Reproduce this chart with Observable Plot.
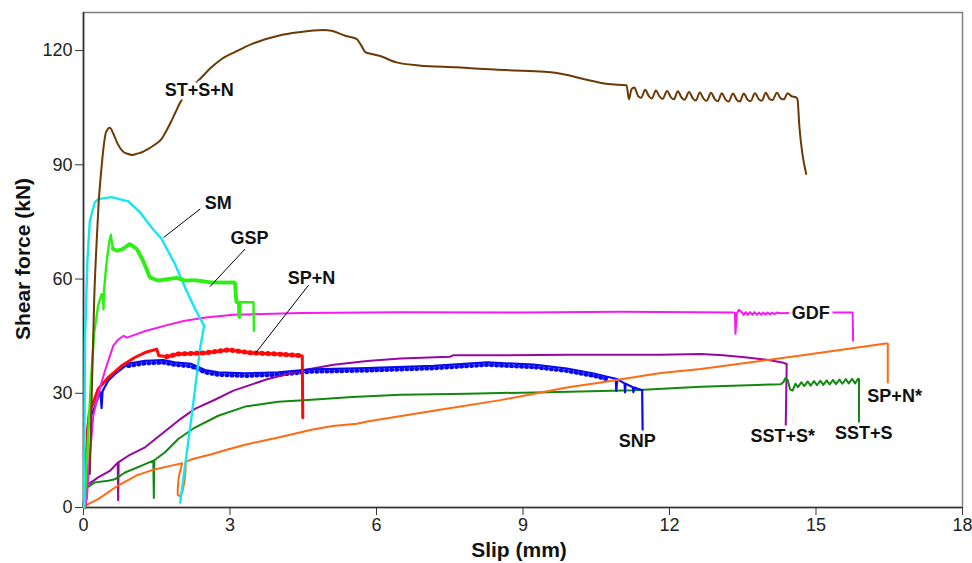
<!DOCTYPE html>
<html><head><meta charset="utf-8">
<script src="https://cdn.jsdelivr.net/npm/d3@7"></script>
<script src="https://cdn.jsdelivr.net/npm/@observablehq/plot@0.6"></script>
<style>body{margin:0;background:#fff}</style>
</head><body><div id="chart"></div>
<script>
// ---- data (slip mm, shear force kN) ----
const xTicks = [0, 3, 6, 9, 12, 15, 18];
const yTicks = [0, 30, 60, 90, 120];

const sstsStar = [[0,0.5],[0.03,5.5],[0.3,7.9],[0.54,9.6],[0.7,11.8],[0.71,1.9],[0.72,11.9],[0.92,13.6],[1.26,15.8],[1.6,19.3],[1.94,22.8],[2.28,25.9],[2.69,28.3],[3.07,30.7],[3.76,33.7],[4.44,35.9],[5.12,37.5],[5.81,38.5],[6.49,39.1],[7.5,39.6],[7.58,40.0],[8.5,40.0],[9.9,40.1],[11.8,40.1],[12.64,40.3],[13.1,40.0],[13.59,39.4],[14.0,38.8],[14.31,38.1],[14.4,37.7],[14.38,21.5]];

const ssts = [[0,0.5],[0.03,4.8],[0.23,6.6],[0.51,7.0],[0.64,7.4],[0.85,9.2],[1.19,11.0],[1.43,12.3],[1.44,2.5],[1.45,12.4],[1.67,14.5],[1.94,18.0],[2.28,21.0],[2.76,24.1],[3.31,26.5],[3.99,27.8],[4.67,28.3],[5.5,29.0],[6.49,29.6],[7.86,29.9],[9.5,30.3],[11.27,30.8],[12.64,31.7],[14.28,32.4],[14.33,32.9],[14.37,33.9],[14.42,33.5],[14.47,31.0],[14.52,30.7],[14.58,32.5],[14.63,31.6],[14.7,32.9],[14.76,31.9],[14.83,33.1],[14.89,32.0],[14.96,33.2],[15.02,32.1],[15.09,33.3],[15.15,32.2],[15.22,33.4],[15.28,32.3],[15.35,33.5],[15.41,32.4],[15.48,33.6],[15.54,32.5],[15.61,33.7],[15.67,32.6],[15.74,33.8],[15.8,32.6],[15.86,33.8],[15.88,33.7],[15.88,22.1]];

const snp = [[0.02,0],[0.06,15],[0.1,22.8],[0.2,25.4],[0.3,29.0],[0.35,30.2],[0.37,26.1],[0.39,30.5],[0.5,33.2],[0.64,35.0],[0.92,37.8],[1.26,38.5],[1.63,38.7],[1.87,38.1],[2.21,37.7],[2.49,36.1],[2.76,35.5],[3.31,35.2],[3.99,35.5],[4.67,36.3],[5.81,36.6],[7.17,37.2],[8.27,38.1],[9.22,37.5],[9.9,36.5],[10.45,35.2],[10.7,34.4],[10.9,33.8],[10.91,30.6],[10.93,33.7],[11.08,32.6],[11.09,30.2],[11.1,32.5],[11.25,31.6],[11.26,30.3],[11.28,31.5],[11.44,30.8],[11.45,20.2]];

const spnStar = [[0,0.3],[0.3,2.2],[0.7,5.7],[1.1,8.5],[1.45,10.0],[1.8,11.0],[2.02,11.6],[2.0,10.5],[1.95,8.0],[1.93,5.0],[1.93,3.3],[1.97,3.0],[2.02,3.8],[2.07,7.0],[2.09,10.0],[2.09,11.9],[2.2,12.6],[2.62,14.0],[2.97,15.3],[3.31,16.5],[3.99,18.4],[4.67,20.4],[5.1,21.4],[5.6,22.0],[5.81,22.6],[7.17,25.4],[8.54,28.2],[9.9,31.5],[10.59,32.8],[11.82,35.3],[12.64,36.4],[14.69,39.9],[16.43,43.1],[16.47,43.0],[16.47,32.8]];

const spn = [[0.03,0],[0.06,3.5],[0.08,20],[0.12,25],[0.2,27.5],[0.3,31.1],[0.51,34.2],[0.78,37.2],[1.05,39.4],[1.26,40.7],[1.5,41.6],[1.54,39.9],[1.7,39.6],[1.94,40.3],[2.49,40.6],[2.97,41.4],[3.44,40.6],[3.99,40.3],[4.43,39.9],[4.48,39.8],[4.49,23.6]];

const gdf = [[0.02,0],[0.07,2.6],[0.12,12],[0.2,24],[0.27,28],[0.35,32],[0.44,35.9],[0.61,42.5],[0.72,44.2],[0.82,45.1],[0.89,44.6],[1.23,46.2],[1.71,47.9],[2.05,49.0],[2.5,49.9],[3.07,50.6],[4.44,51.1],[6.49,51.3],[9.0,51.2],[11.0,51.4],[13.3,51.2],[13.34,51.1],[13.35,45.6],[13.38,51.0],[13.42,51.9],[13.48,51.3],[13.52,50.6],[13.56,51.3],[13.6,50.6],[13.65,51.3],[13.7,50.6],[13.74,51.3],[13.79,50.6],[13.83,51.2],[13.88,50.6],[13.92,51.2],[13.97,50.7],[14.01,51.2],[14.06,50.7],[14.1,51.2],[14.15,50.8],[14.2,51.2],[14.26,51.0],[14.45,51.1],[15.3,51.2],[15.75,51.2],[15.76,43.8]];

const gsp = [[0.02,0],[0.08,15],[0.15,33],[0.22,46],[0.3,53],[0.37,56],[0.4,55.2],[0.41,52],[0.42,57],[0.47,64],[0.53,70],[0.56,71.6],[0.6,68],[0.68,67.4],[0.81,67.9],[0.95,69.2],[1.09,67.9],[1.22,64.8],[1.36,60.4],[1.53,59.6],[1.74,60.0],[1.91,60.3],[2.08,59.6],[2.28,59.7],[2.62,59.1],[3.1,59.1],[3.13,54.0],[3.18,53.9],[3.19,50.0],[3.2,53.9],[3.48,53.9],[3.49,46.4]];

const sm = [[0.01,0],[0.03,43.8],[0.08,65],[0.13,75.3],[0.23,80.1],[0.3,81.0],[0.57,81.5],[0.92,80.4],[1.16,77.5],[1.39,73.6],[1.6,70.5],[1.87,64.0],[2.08,57.8],[2.27,52.5],[2.38,49.9],[2.47,47.7],[2.39,42.0],[2.22,24.5],[1.98,1.3]];

const stsn = [[0.13,8.8],[0.17,30],[0.22,55],[0.27,70],[0.31,80],[0.36,88],[0.41,94.5],[0.46,98.5],[0.54,99.7],[0.6,98.5],[0.7,95.5],[0.8,93.6],[0.9,92.9],[1.0,92.6],[1.09,92.9],[1.2,93.3],[1.3,94.0],[1.45,95.2],[1.6,96.8],[1.7,99.0],[1.8,101.5],[1.87,103.4],[2.0,106.8],[2.2,110.0],[2.42,113.0],[2.62,115.6],[2.83,117.8],[3.1,119.6],[3.44,121.7],[3.99,123.9],[4.4,124.8],[4.91,125.4],[5.08,125.2],[5.36,123.9],[5.59,123.1],[5.69,121.3],[5.77,119.6],[5.9,119.1],[6.04,118.7],[6.41,116.9],[6.87,116.1],[7.65,115.6],[8.42,115.0],[9.35,114.5],[9.66,114.2],[9.97,113.4],[10.28,112.4],[10.74,111.2],[11.12,110.9],[11.17,107.2],[11.22,109.8],[11.28,110.3],[11.36,108.0],[11.42,107.6],[11.5,109.7],[11.58,108.0],[11.64,107.4],[11.72,109.5],[11.8,107.9],[11.86,107.3],[11.95,109.4],[12.03,107.7],[12.09,107.2],[12.17,109.3],[12.25,107.6],[12.31,107.1],[12.4,109.1],[12.48,107.4],[12.54,106.9],[12.62,109.0],[12.7,107.3],[12.76,106.8],[12.85,108.9],[12.93,107.2],[12.99,106.7],[13.07,108.8],[13.15,107.1],[13.21,106.6],[13.3,108.7],[13.38,107.0],[13.44,106.6],[13.52,108.7],[13.6,107.1],[13.66,106.7],[13.75,108.8],[13.83,107.2],[13.89,106.8],[13.97,108.9],[14.05,107.3],[14.11,107.0],[14.2,108.9],[14.28,107.4],[14.34,107.2],[14.42,108.8],[14.5,108.0],[14.58,107.8],[14.62,107.3],[14.66,100],[14.72,93],[14.8,87.6]];

const labelNames = ["ST+S+N","SM","GSP","SP+N","GDF","SP+N*","SST+S","SST+S*","SNP"];
const labelX = [2.37, 2.76, 3.40, 4.67, 14.89, 16.61, 15.98, 14.32, 11.34];
const labelY = [109.7, 79.8, 70.6, 60.2, 50.9, 29.2, 19.5, 18.7, 17.5];

const leaderX1 = [1.64, 2.59, 3.52];
const leaderY1 = [70.9, 58.0, 40.5];
const leaderX2 = [2.39, 3.31, 4.61];
const leaderY2 = [78.4, 67.9, 58.4];

// ---- build ----
const rows = pts => pts.map(([x, y]) => ({x, y}));
const styles = [
  {pts: sstsStar, color: "#9608a0", w: 2},
  {pts: ssts, color: "#128812", w: 2},
  {pts: snp, color: "#0a0af0", w: 2.2},
  {pts: spnStar, color: "#ff6a12", w: 2},
  {pts: spn, color: "#ff0a0a", w: 3},
  {pts: gdf, color: "#f719f0", w: 2},
  {pts: gsp, color: "#2cf014", w: 2.4},
  {pts: sm, color: "#14e6f2", w: 2.4},
  {pts: stsn, color: "#6c3a06", w: 2, curve: "monotone-x"}
];
const lineMarks = styles.map(s => Plot.line(rows(s.pts), {x: "x", y: "y", stroke: s.color, strokeWidth: s.w, strokeLinejoin: "round", curve: s.curve || "linear"}));

const leaders = leaderX1.map((d, i) => ({x1: d, y1: leaderY1[i], x2: leaderX2[i], y2: leaderY2[i]}));
const labels = labelNames.map((t, i) => ({t, x: labelX[i], y: labelY[i]}));
const font = "'Liberation Sans', Arial, Helvetica, sans-serif";

const chart = Plot.plot({
  width: 972, height: 563,
  marginLeft: 83, marginRight: 10, marginTop: 12, marginBottom: 56,
  style: {fontFamily: font, background: "#fff", color: "#222"},
  x: {domain: [0, 18]},
  y: {domain: [0, 130]},
  marks: [
    Plot.frame({stroke: "#808080", strokeWidth: 1.5}),
    Plot.axisX({ticks: xTicks, tickSize: 8, tickPadding: 3, fontSize: 18, label: null, stroke: "#333"}),
    Plot.axisY({ticks: yTicks, tickSize: 8, tickPadding: 3, fontSize: 18, label: null, stroke: "#333"}),
    Plot.ruleX([0], {stroke: "#333", strokeWidth: 1.6}),
    Plot.ruleY([0], {stroke: "#333", strokeWidth: 1.6}),
    // noisy texture overlays (teeth / jitter seen in the measured curves)
    Plot.line(rows(snp).filter(d => d.x > 0.9 && d.x < 10.8), {x: "x", y: "y", stroke: "#0a0af0", strokeWidth: 4, strokeDasharray: "1,4", dy: 2.5}),
    ...lineMarks,
    Plot.line(rows(spn).filter(d => d.x > 1.55 && d.x < 4.45), {x: "x", y: "y", stroke: "#ff0a0a", strokeWidth: 5, strokeDasharray: "1,5"}),
    Plot.line(rows(gsp).filter(d => d.x > 0.58 && d.x < 3.48), {x: "x", y: "y", stroke: "#2cf014", strokeWidth: 4, strokeDasharray: "0.8,2.2"}),
    Plot.link(leaders, {x1: "x1", y1: "y1", x2: "x2", y2: "y2", stroke: "#000", strokeWidth: 1}),
    Plot.text(labels, {x: "x", y: "y", text: "t", fontSize: 18, fontWeight: "bold", fill: "#111", stroke: "#fff", strokeWidth: 7, paintOrder: "stroke"}),
    Plot.text(["Slip (mm)"], {text: d => d, frameAnchor: "bottom", textAnchor: "middle", lineAnchor: "middle", dy: 43, dx: -4, fontSize: 21, fontWeight: "bold", fill: "#111"}),
    Plot.text(["Shear force (kN)"], {text: d => d, frameAnchor: "left", textAnchor: "middle", lineAnchor: "middle", rotate: -90, dx: -60, dy: -1, fontSize: 21, fontWeight: "bold", fill: "#111"})
  ]
});
document.getElementById("chart").appendChild(chart);
</script>
</body></html>
